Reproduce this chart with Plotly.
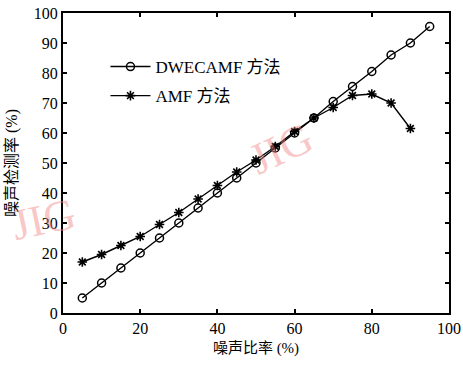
import plotly.graph_objects as go

# Data
x_dwe = [5, 10, 15, 20, 25, 30, 35, 40, 45, 50, 55, 60, 65, 70, 75, 80, 85, 90, 95]
y_dwe = [5, 10, 15, 20, 25, 30, 35, 40, 45, 50, 55, 60, 65, 70.5, 75.5, 80.5, 86, 90, 95.5]
x_amf = [5, 10, 15, 20, 25, 30, 35, 40, 45, 50, 55, 60, 65, 70, 75, 80, 85, 90]
y_amf = [17, 19.5, 22.5, 25.5, 29.5, 33.5, 38, 42.5, 47, 51, 55.5, 60.5, 65, 68.5, 72.5, 73, 70, 61.5]
x_ticks = [0, 20, 40, 60, 80, 100]
y_ticks = [0, 10, 20, 30, 40, 50, 60, 70, 80, 90, 100]

serif = "Liberation Serif, Noto Sans CJK SC, serif"

fig = go.Figure()
fig.add_trace(go.Scatter(
    x=x_dwe, y=y_dwe, mode="lines+markers", name="DWECAMF 方法", legendgroup="a",
    line=dict(color="black", width=1.4),
    marker=dict(symbol="circle-open", size=8, color="black", line=dict(width=1.5)),
))
fig.add_trace(go.Scatter(
    x=x_amf, y=y_amf, mode="lines+markers", name="AMF 方法", legendgroup="b",
    line=dict(color="black", width=1.4),
    marker=dict(symbol="asterisk-open", size=8, color="black", line=dict(width=1.6)),
))

axis_common = dict(
    showline=True, linecolor="black", linewidth=2, mirror="ticks",
    ticks="inside", ticklen=4, tickcolor="black", tickwidth=1.5,
    showgrid=False, zeroline=False, automargin=False,
    tickfont=dict(family=serif, size=16, color="black"),
)
fig.update_xaxes(range=[0, 100], tickvals=x_ticks,
                 title=dict(text="噪声比率 (%)", font=dict(family=serif, size=15, color="black"), standoff=6),
                 **axis_common)
fig.update_yaxes(range=[0, 100], tickvals=y_ticks,
                 title=dict(text="噪声检测率 (%)", font=dict(family=serif, size=16, color="black"), standoff=12),
                 **axis_common)

# watermark text
wm = dict(family=serif, size=44, color="rgba(240,130,130,0.45)")
fig.add_annotation(text="JIG", x=-0.05, y=0.31, xref="paper", yref="paper", showarrow=False,
                   xanchor="center", yanchor="middle", textangle=-12, font=wm)
fig.add_annotation(text="JIG", x=0.565, y=0.55, xref="paper", yref="paper", showarrow=False,
                   xanchor="center", yanchor="middle", textangle=-25, font=wm)

fig.update_layout(
    width=463, height=367,
    margin=dict(l=63, r=14, t=13, b=54),
    paper_bgcolor="white", plot_bgcolor="white",
    showlegend=True,
    legend=dict(x=0.11, y=0.88, xanchor="left", yanchor="top",
                bgcolor="rgba(0,0,0,0)", font=dict(family=serif, size=17, color="black"),
                itemwidth=40, tracegroupgap=4),
)

fig.write_html("out.html", config={"displayModeBar": False},
               post_script="document.body.style.margin='0';document.body.style.padding='0';")
